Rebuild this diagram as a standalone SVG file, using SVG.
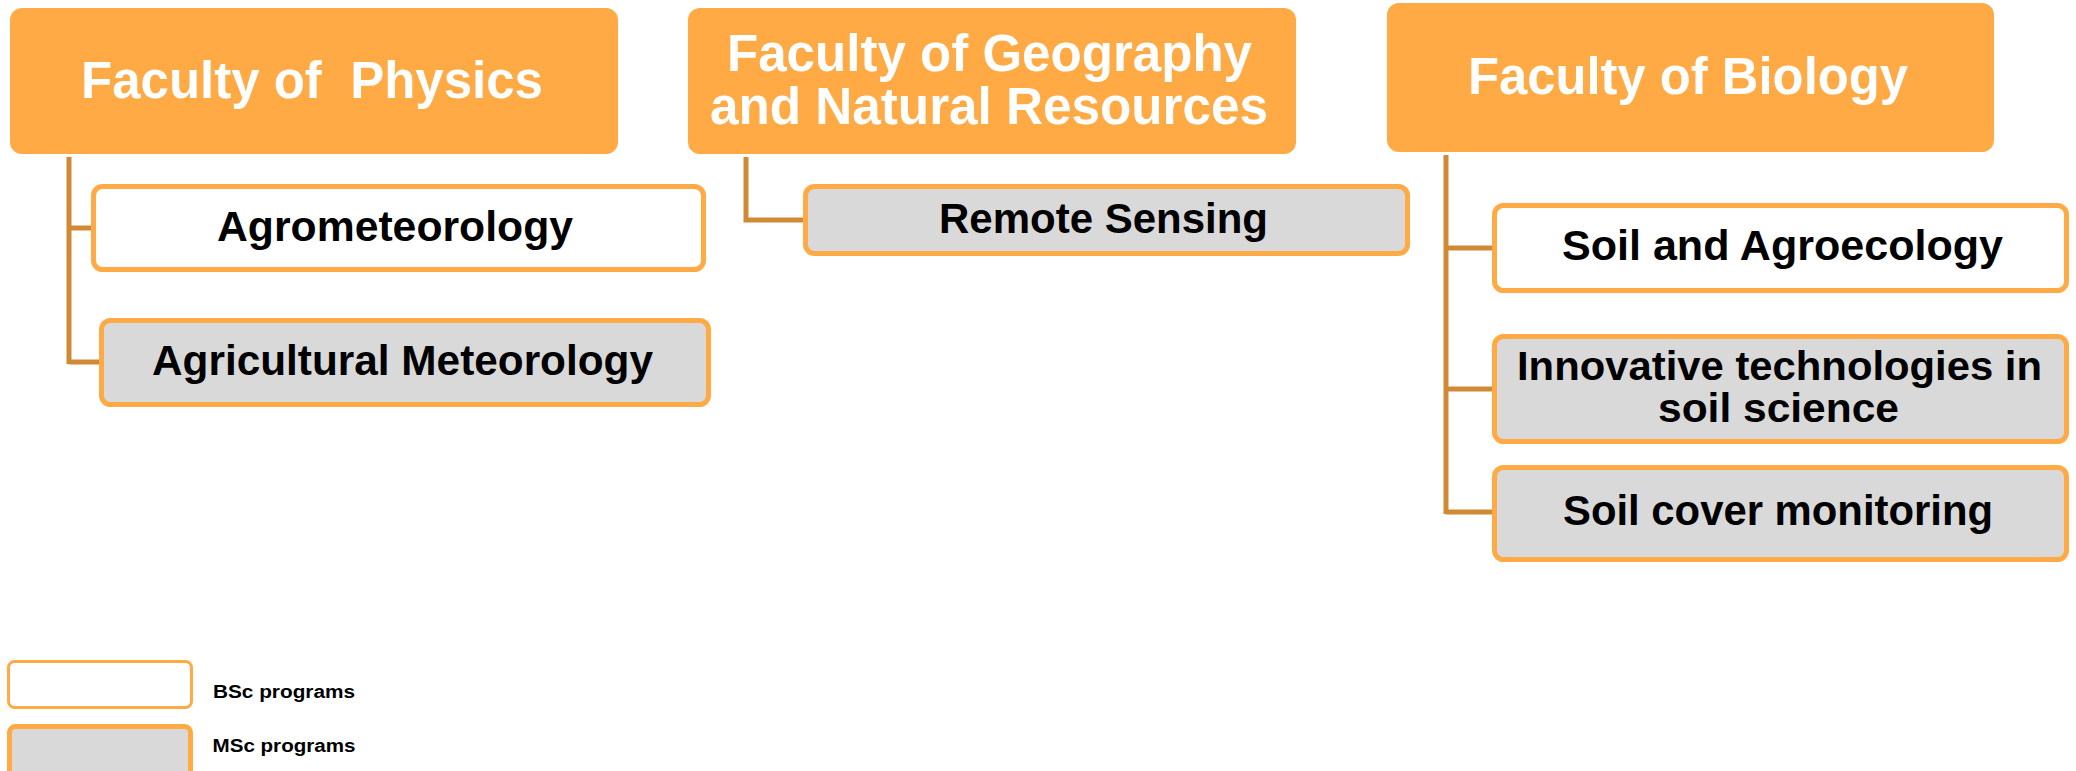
<svg xmlns="http://www.w3.org/2000/svg" width="2076" height="771" viewBox="0 0 2076 771">
<style>
.hdr{fill:#FFAA44;}
.hdrtxt{font-family:"Liberation Sans",Arial,sans-serif;font-weight:bold;fill:#FFFFFF;text-anchor:middle;font-size:51px;}
.bsc{fill:#FFFFFF;stroke:#FFAA44;stroke-width:5;}
.msc{fill:#D9D9D9;stroke:#FFAA44;stroke-width:5;}
.ptxt{font-family:"Liberation Sans",Arial,sans-serif;font-weight:bold;fill:#000000;text-anchor:middle;font-size:42px;}
.ltxt{font-family:"Liberation Sans",Arial,sans-serif;font-weight:bold;fill:#000000;text-anchor:middle;font-size:18px;}
.conn{fill:none;stroke:#D08A35;stroke-width:5;}
</style>
<rect width="2076" height="771" fill="#FFFFFF"/>
<g id="connectors">
<path class="conn" d="M69 157 V364 M69 228 H93 M69 362 H100"/>
<path class="conn" d="M746 157 V220 H804"/>
<path class="conn" d="M1446 155 V514 M1446 248 H1493 M1446 389 H1493 M1446 512 H1493"/>
</g>
<g id="faculty-physics">
<rect class="hdr" x="10" y="8" width="608" height="146" rx="12"/>
<text class="hdrtxt" x="312" y="98" textLength="462" lengthAdjust="spacingAndGlyphs" xml:space="preserve">Faculty of  Physics</text>
</g>
<g id="faculty-geography">
<rect class="hdr" x="688" y="8" width="608" height="146" rx="12"/>
<text class="hdrtxt" x="989.5" y="71" textLength="525" lengthAdjust="spacingAndGlyphs">Faculty of Geography</text>
<text class="hdrtxt" x="989" y="124" textLength="558" lengthAdjust="spacingAndGlyphs">and Natural Resources</text>
</g>
<g id="faculty-biology">
<rect class="hdr" x="1387" y="3" width="607" height="149" rx="12"/>
<text class="hdrtxt" x="1688" y="94" textLength="440" lengthAdjust="spacingAndGlyphs">Faculty of Biology</text>
</g>
<g id="agrometeorology">
<rect class="bsc" x="93.5" y="186.5" width="610" height="83" rx="9"/>
<text class="ptxt" x="395" y="241" textLength="356" lengthAdjust="spacingAndGlyphs">Agrometeorology</text>
</g>
<g id="agricultural-meteorology">
<rect class="msc" x="101.5" y="320.5" width="607" height="84" rx="9"/>
<text class="ptxt" x="402.5" y="375" textLength="501" lengthAdjust="spacingAndGlyphs">Agricultural Meteorology</text>
</g>
<g id="remote-sensing">
<rect class="msc" x="805.5" y="186.5" width="602" height="67" rx="9"/>
<text class="ptxt" x="1103.5" y="233" textLength="329" lengthAdjust="spacingAndGlyphs">Remote Sensing</text>
</g>
<g id="soil-agroecology">
<rect class="bsc" x="1494.5" y="205.5" width="572" height="85" rx="9"/>
<text class="ptxt" x="1782.5" y="260" textLength="441" lengthAdjust="spacingAndGlyphs">Soil and Agroecology</text>
</g>
<g id="innovative-technologies">
<rect class="msc" x="1494.5" y="336.5" width="572" height="105" rx="9"/>
<text class="ptxt" x="1779.5" y="380" font-size="40" style="font-size:40px" textLength="525" lengthAdjust="spacingAndGlyphs">Innovative technologies in</text>
<text class="ptxt" x="1778.5" y="422" font-size="40" style="font-size:40px" textLength="241" lengthAdjust="spacingAndGlyphs">soil science</text>
</g>
<g id="soil-cover-monitoring">
<rect class="msc" x="1494.5" y="467.5" width="572" height="92" rx="9"/>
<text class="ptxt" x="1778" y="525" textLength="430" lengthAdjust="spacingAndGlyphs">Soil cover monitoring</text>
</g>
<g id="legend-bsc">
<rect class="bsc" x="8.5" y="661.5" width="183" height="46" rx="6" style="stroke-width:3"/>
<text class="ltxt" x="284" y="698" textLength="142" lengthAdjust="spacingAndGlyphs">BSc programs</text>
</g>
<g id="legend-msc">
<rect class="msc" x="9.5" y="726.5" width="181" height="50" rx="6"/>
<text class="ltxt" x="284" y="752" textLength="143" lengthAdjust="spacingAndGlyphs">MSc programs</text>
</g>
</svg>
